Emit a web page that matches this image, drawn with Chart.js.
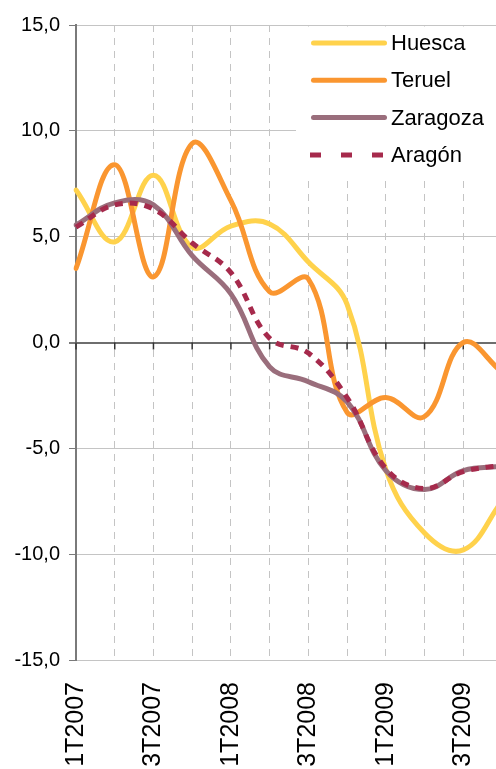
<!DOCTYPE html>
<html>
<head>
<meta charset="utf-8">
<script src="https://cdn.jsdelivr.net/npm/chart.js@4/dist/chart.umd.min.js"></script>
<style>
  html, body { margin: 0; padding: 0; background: #fff; overflow: hidden; }
  #wrap { width: 530px; height: 769px; }
</style>
</head>
<body>
<div id="wrap"><canvas id="chart" width="530" height="769"></canvas></div>
<script>
// quarterly series
const quarters = ['1T2007', '2T2007', '3T2007', '4T2007', '1T2008', '2T2008', '3T2008', '4T2008', '1T2009', '2T2009', '3T2009', '4T2009'];
const huesca   = [7.2, 4.75, 7.9, 4.5, 5.5, 5.6, 3.8, 1.8, -6.0, -9.0, -9.8, -7.5];
const teruel   = [3.5, 8.4, 3.1, 9.4, 6.7, 2.4, 3.0, -3.3, -2.6, -3.5, 0.0, -1.4];
const zaragoza = [5.55, 6.6, 6.5, 4.1, 2.3, -1.15, -1.85, -2.8, -6.05, -6.95, -6.05, -5.85];
const aragon   = [5.45, 6.5, 6.3, 4.7, 3.3, 0.2, -0.5, -2.6, -5.95, -6.9, -6.1, -5.8];
const yTicks   = [-15, -10, -5, 0, 5, 10, 15];

const COLORS = {
    huesca: '#FFD24C',
    teruel: '#FA9630',
    zaragoza: '#9A6E7C',
    aragon: '#A62A4C'
};
const FONT = '"Liberation Sans", Arial, sans-serif';

// white legend box, tick marks on the zero line and the legend itself
const framePlugin = {
    id: 'frame',
    beforeDatasetsDraw(chart) {
        const { ctx, chartArea, scales } = chart;
        ctx.save();
        ctx.fillStyle = '#ffffff';
        ctx.fillRect(296, chartArea.top + 1.5, chart.width - 296, 178 - chartArea.top - 1.5);

        const y0 = scales.y.getPixelForValue(0);
        ctx.strokeStyle = '#333333';
        ctx.lineWidth = 1.5;
        quarters.forEach((q, i) => {
            const px = scales.x.getPixelForValue(i);
            ctx.beginPath();
            ctx.moveTo(px, y0);
            ctx.lineTo(px, y0 + 7);
            ctx.stroke();
        });
        ctx.restore();
    },
    afterDraw(chart) {
        const ctx = chart.ctx;
        ctx.save();
        chart.data.datasets.forEach((ds, i) => {
            const ly = 43 + i * 37.3;
            ctx.strokeStyle = ds.borderColor;
            ctx.lineWidth = 5;
            if (ds.borderDash && ds.borderDash.length) {
                ctx.setLineDash([11, 20]);
                ctx.lineCap = 'butt';
                ctx.beginPath();
                ctx.moveTo(310, ly);
                ctx.lineTo(384, ly);
            } else {
                ctx.setLineDash([]);
                ctx.lineCap = 'round';
                ctx.beginPath();
                ctx.moveTo(313.5, ly);
                ctx.lineTo(384.5, ly);
            }
            ctx.stroke();
            ctx.setLineDash([]);
            ctx.fillStyle = '#000000';
            ctx.font = '22px ' + FONT;
            ctx.textBaseline = 'middle';
            ctx.textAlign = 'left';
            ctx.fillText(ds.label, 391, ly + 1);
        });
        ctx.restore();
    }
};

function lineSet(label, data, color, order, dash) {
    return {
        label: label,
        data: data,
        borderColor: color,
        backgroundColor: color,
        borderWidth: 5,
        borderDash: dash || [],
        borderCapStyle: dash ? 'butt' : 'round',
        borderJoinStyle: 'round',
        pointRadius: 0,
        tension: 0.4,
        fill: false,
        order: order
    };
}

new Chart(document.getElementById('chart'), {
    type: 'line',
    data: {
        labels: quarters,
        datasets: [
            lineSet('Huesca', huesca, COLORS.huesca, 4),
            lineSet('Teruel', teruel, COLORS.teruel, 3),
            lineSet('Zaragoza', zaragoza, COLORS.zaragoza, 2),
            lineSet('Aragón', aragon, COLORS.aragon, 1, [8, 7])
        ]
    },
    options: {
        responsive: false,
        maintainAspectRatio: false,
        animation: false,
        layout: { padding: { top: 25, right: 28, bottom: 0, left: 0 } },
        plugins: {
            legend: { display: false },
            tooltip: { enabled: false }
        },
        scales: {
            x: {
                offset: false,
                afterFit: function(scale) {
                    scale.height = 109;
                    scale.paddingLeft = 0;
                    scale.paddingRight = 0;
                },
                grid: {
                    color: function(ctx) { return ctx.index === 0 ? 'rgba(0,0,0,0)' : '#c4c4c4'; },
                    lineWidth: 1,
                    drawTicks: false
                },
                border: { display: false, dash: [7, 6] },
                ticks: {
                    autoSkip: false,
                    minRotation: 90,
                    maxRotation: 90,
                    padding: 22,
                    color: '#000000',
                    font: { family: FONT, size: 25 },
                    callback: function(value, index) {
                        return index % 2 === 0 ? quarters[index] : '';
                    }
                }
            },
            y: {
                min: -15,
                max: 15,
                afterBuildTicks: function(scale) {
                    scale.ticks = yTicks.map(v => ({ value: v }));
                },
                afterFit: function(scale) {
                    scale.width = 76;
                    scale.paddingTop = 0;
                    scale.paddingBottom = 0;
                },
                grid: {
                    color: function(ctx) { return ctx.tick && ctx.tick.value === 0 ? '#6e6e6e' : '#c4c4c4'; },
                    lineWidth: function(ctx) { return ctx.tick && ctx.tick.value === 0 ? 2 : 1; },
                    tickColor: '#7a7a7a',
                    tickLength: 7
                },
                border: { display: true, color: '#7a7a7a', width: 2 },
                ticks: {
                    padding: 9,
                    color: '#000000',
                    font: { family: FONT, size: 20 },
                    callback: function(value) {
                        return value.toFixed(1).replace('.', ',');
                    }
                }
            }
        }
    },
    plugins: [framePlugin]
});
</script>
</body>
</html>
